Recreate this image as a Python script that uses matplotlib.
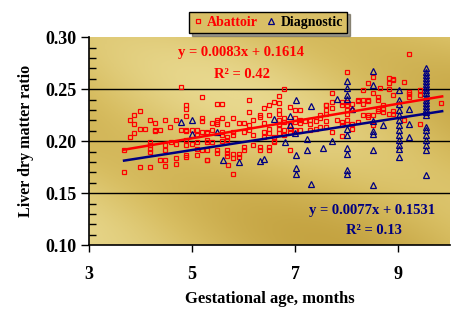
import numpy as np
import matplotlib
matplotlib.use("Agg")
import matplotlib.pyplot as plt
from matplotlib.colors import LinearSegmentedColormap

plt.rcParams['font.family'] = ['Liberation Serif', 'DejaVu Serif']
plt.rcParams['font.weight'] = 'bold'

# abattoir samples (gestational age in months, liver dry matter ratio)
ab_x = [3.68, 3.68, 3.79, 3.79, 3.88, 3.88, 3.88, 3.98, 3.98, 3.98, 4.08, 4.19, 4.19, 4.19, 4.19, 4.19, 4.19,
        4.28, 4.28, 4.28, 4.38, 4.38, 4.48, 4.48, 4.48, 4.48, 4.48, 4.58, 4.59, 4.69, 4.69, 4.69, 4.69, 4.78, 4.78,
        4.88, 4.88, 4.88, 4.88, 4.88, 4.88, 4.88, 4.88, 4.88, 4.99, 4.99, 5.09, 5.09, 5.09, 5.09, 5.09, 5.19, 5.19,
        5.19, 5.19, 5.19, 5.28, 5.28, 5.28,
        5.28, 5.28, 5.28, 5.28, 5.39, 5.39, 5.39, 5.49, 5.49, 5.49, 5.49, 5.49, 5.49, 5.58, 5.58, 5.58, 5.58, 5.58,
        5.68, 5.68, 5.68, 5.68, 5.68, 5.68, 5.69, 5.79, 5.79, 5.79, 5.79, 5.79, 5.79, 5.90, 5.90, 5.90, 6.00, 6.00,
        6.00, 6.00, 6.10, 6.10, 6.10, 6.10, 6.19, 6.19, 6.19, 6.31, 6.31, 6.31, 6.31, 6.40, 6.40, 6.40, 6.40, 6.50,
        6.50, 6.50, 6.50, 6.50, 6.50, 6.59, 6.59, 6.59, 6.59, 6.69, 6.69, 6.69, 6.69, 6.69, 6.69, 6.69, 6.69, 6.69,
        6.79, 6.79, 6.79, 6.79, 6.79, 6.90, 6.90, 6.90, 6.90, 6.90, 6.99, 6.99, 6.99, 6.99, 7.09, 7.09, 7.09, 7.09,
        7.19, 7.29, 7.29, 7.29, 7.40, 7.40, 7.49, 7.49, 7.49, 7.60, 7.60, 7.60,
        7.60, 7.60, 7.60, 7.71, 7.71, 7.71, 7.71, 7.81, 7.91, 7.91, 7.91, 7.91, 7.91, 8.00, 8.00, 8.00, 8.00, 8.00,
        8.00, 8.00, 8.10, 8.10, 8.10, 8.10, 8.21, 8.21, 8.21, 8.31, 8.31, 8.31, 8.31, 8.42, 8.42, 8.42, 8.42, 8.42,
        8.50, 8.50, 8.50, 8.50, 8.61, 8.61, 8.61, 8.61, 8.65, 8.71, 8.71, 8.71, 8.81, 8.81, 8.81, 8.81, 8.90, 8.90,
        8.90, 8.90, 8.90, 9.11, 9.11, 9.21, 9.21, 9.21, 9.21, 9.42, 9.42, 9.42, 9.83]
ab_y = [0.1916, 0.1705, 0.2208, 0.2041, 0.225, 0.217, 0.208, 0.2288, 0.2115, 0.1753, 0.2115, 0.2202, 0.1993, 0.196,
        0.193, 0.1896, 0.1753, 0.2176, 0.211, 0.2096, 0.2105, 0.1823, 0.220, 0.196, 0.1916, 0.1823, 0.1762, 0.2138,
        0.1993, 0.2208, 0.1977, 0.1843, 0.1785, 0.2525, 0.2105, 0.2346, 0.2314, 0.224, 0.211, 0.2095, 0.2008, 0.196,
        0.187, 0.185, 0.2112, 0.1977, 0.2105, 0.2057, 0.1993, 0.193, 0.187, 0.2426, 0.2224, 0.2195, 0.2089, 0.1916,
        0.208, 0.1993, 0.182,
        0.2089, 0.201, 0.1913, 0.1817, 0.218, 0.2105, 0.1993, 0.2355, 0.2208, 0.2185, 0.217, 0.1913, 0.1885, 0.2355,
        0.2224, 0.2089, 0.2057, 0.200, 0.217, 0.2041, 0.201, 0.1913, 0.1885, 0.186, 0.1769, 0.2224, 0.209, 0.206,
        0.188, 0.184, 0.1689, 0.2175, 0.188, 0.185, 0.2175, 0.209, 0.1945, 0.1913, 0.2401, 0.2281, 0.2153, 0.2112,
        0.2202, 0.2057, 0.196, 0.2256, 0.2233, 0.1945, 0.1913, 0.232, 0.2175, 0.209, 0.2041, 0.2345, 0.2256, 0.2122,
        0.2075, 0.1945, 0.1918, 0.2378, 0.2041, 0.2003, 0.199, 0.2433, 0.2368, 0.2304, 0.2266, 0.2202, 0.217, 0.2153,
        0.2122, 0.208, 0.2507, 0.2224, 0.2185, 0.2112, 0.2057, 0.233, 0.2153, 0.2122, 0.209, 0.1913, 0.2304, 0.2224,
        0.2185, 0.2105, 0.2304, 0.2208, 0.2175, 0.2112, 0.2195, 0.2208, 0.2163, 0.2105, 0.2195, 0.2122, 0.2256,
        0.2224, 0.2137, 0.2346, 0.226, 0.2137,
        0.2353, 0.2298, 0.2195, 0.2468, 0.2378, 0.232, 0.2089, 0.220, 0.238, 0.235, 0.2185, 0.2153, 0.205, 0.2666,
        0.238, 0.2346, 0.2298, 0.2266, 0.220, 0.217, 0.236, 0.230, 0.217, 0.2122, 0.2394, 0.2384, 0.2185, 0.249,
        0.2394, 0.2355, 0.225, 0.2561, 0.2394, 0.2384, 0.225, 0.2234, 0.262, 0.2468, 0.225, 0.2153, 0.2426, 0.2394,
        0.2314, 0.2292, 0.2513, 0.2346, 0.2314, 0.2281, 0.2612, 0.2564, 0.2506, 0.226, 0.2603, 0.2594, 0.2442,
        0.2292, 0.226, 0.257, 0.2202, 0.2843, 0.2474, 0.2452, 0.2426, 0.2497, 0.2442, 0.217, 0.2372]

# diagnostic samples
dg_x = [4.78, 4.99, 4.99, 5.49, 5.60, 5.90, 6.31, 6.40, 6.59, 6.80, 6.90, 6.90, 6.99, 7.01, 7.01, 7.01, 7.01,
        7.23, 7.23, 7.31, 7.31, 7.53, 7.71, 7.81, 8.00, 8.00, 8.00, 8.00, 8.00, 8.00, 8.00, 8.00, 8.00, 8.00, 8.10,
        8.50, 8.50, 8.50, 8.50, 8.50, 8.50, 8.50, 8.71, 9.01, 9.01, 9.01, 9.01, 9.01, 9.01, 9.01, 9.01, 9.01, 9.01,
        9.01, 9.01, 9.01, 9.21, 9.21, 9.21,
        9.53, 9.53, 9.53, 9.53, 9.53, 9.53, 9.53, 9.53, 9.53, 9.53, 9.53, 9.53, 9.53, 9.53, 9.53, 9.53, 9.53, 9.53,
        9.53, 9.53, 9.53, 9.53, 9.53]
dg_y = [0.219, 0.2208, 0.2067, 0.2089, 0.1823, 0.180, 0.181, 0.1833, 0.2218, 0.1993, 0.224, 0.2153, 0.208, 0.2401,
        0.1865, 0.1743, 0.1682, 0.2026, 0.192, 0.2336, 0.1592, 0.194, 0.2003, 0.241, 0.258, 0.2513, 0.2449, 0.241,
        0.2122, 0.2057, 0.194, 0.1875, 0.172, 0.1689, 0.2314, 0.2676, 0.2538, 0.2195, 0.21, 0.2067, 0.1913, 0.1576,
        0.216, 0.249, 0.2394, 0.2355, 0.2298, 0.225, 0.220, 0.2153, 0.2105, 0.2057, 0.201, 0.1961, 0.193, 0.1849,
        0.2314, 0.217, 0.2041,
        0.270, 0.267, 0.264, 0.261, 0.258, 0.255, 0.252, 0.249, 0.246, 0.243, 0.240, 0.237, 0.234, 0.231, 0.228,
        0.225, 0.2138, 0.2105, 0.2057, 0.201, 0.1961, 0.1913, 0.1672]

# fitted trend lines from the source
ab_fit = (0.0083, 0.1614, 0.42)
dg_fit = (0.0077, 0.1531, 0.13)
fit_range = [3.68, 9.85]

red = '#FF0000'
navy = '#000080'

fig = plt.figure(figsize=(4.6, 3.15), dpi=100)
ax = fig.add_axes([0.1935, 0.2213, 0.7845, 0.6603])

# gold textured background
gx, gy = np.meshgrid(np.linspace(0, 1, 200), np.linspace(0, 1, 200))
tex = 0.5 + 0.3 * np.cos(6.0 * (gx * 0.8 + gy)) + 0.2 * np.cos(3.0 * (gx - gy) + 1.0)
gold = LinearSegmentedColormap.from_list('gold', ['#C4A341', '#D8BE62', '#E8D88E'])
ax.imshow(tex, extent=[3, 10, 0.10, 0.30], aspect='auto', cmap=gold, origin='lower', zorder=0)

for yv in [0.15, 0.20, 0.25]:
    ax.axhline(yv, color='black', lw=1.0, zorder=1)

ax.plot(ab_x, ab_y, 's', ms=3.0, mfc='none', mec=red, mew=0.9, zorder=3, label='Abattoir')
ax.plot(dg_x, dg_y, '^', ms=4.0, mfc='none', mec=navy, mew=0.9, zorder=3, label='Diagnostic')

fx = np.array(fit_range)
ax.plot(fx, ab_fit[0] * fx + ab_fit[1], color=red, lw=1.8, zorder=4)
ax.plot(fx, dg_fit[0] * fx + dg_fit[1], color=navy, lw=1.8, zorder=4)

ax.text(5.95, 0.2849, 'y = %.4fx + %.4f' % (ab_fit[0], ab_fit[1]), color=red, fontsize=10.5,
        fontweight='bold', ha='center', va='center')
ax.text(5.97, 0.2647, 'R\u00b2 = %.2f' % ab_fit[2], color=red, fontsize=10.5,
        fontweight='bold', ha='center', va='center')
ax.text(8.5, 0.1335, 'y = %.4fx + %.4f' % (dg_fit[0], dg_fit[1]), color=navy, fontsize=10.5,
        fontweight='bold', ha='center', va='center')
ax.text(8.52, 0.1143, 'R\u00b2 = %.2f' % dg_fit[2], color=navy, fontsize=10.5,
        fontweight='bold', ha='center', va='center')

ax.set_xlim(3, 10)
ax.set_ylim(0.10, 0.30)
ax.set_xticks([3, 5, 7, 9])
ax.set_yticks([0.10, 0.15, 0.20, 0.25, 0.30])
ax.set_yticklabels(['0.10', '0.15', '0.20', '0.25', '0.30'])
ax.set_yticks(np.arange(0.10, 0.30, 0.01), minor=True)
ax.tick_params(axis='y', which='major', direction='out', length=6, width=1, labelsize=13, pad=3)
ax.tick_params(axis='y', which='minor', direction='in', length=5, width=1)
ax.tick_params(axis='x', which='major', direction='out', length=5, width=1, labelsize=13, pad=10)
for s in ['top', 'right']:
    ax.spines[s].set_visible(False)
for s in ['left', 'bottom']:
    ax.spines[s].set_linewidth(1.2)

ax.set_xlabel('Gestational age, months', fontsize=12, fontweight='bold', labelpad=6)
ax.set_ylabel('Liver dry matter ratio', fontsize=11.5, fontweight='bold', labelpad=8)

leg = fig.legend(loc='upper center', bbox_to_anchor=(0.583, 0.985), ncol=2, fontsize=10,
                 frameon=True, fancybox=False, shadow=True, handlelength=0.6, handletextpad=0.4,
                 columnspacing=0.6, borderpad=0.3, markerscale=1.0)
leg.get_frame().set_facecolor('#D9BF66')
leg.get_frame().set_edgecolor('black')
leg.get_frame().set_linewidth(1.0)
leg.get_texts()[0].set_color(red)
leg.get_texts()[1].set_color('black')
for t in leg.get_texts():
    t.set_fontweight('bold')

fig.savefig('out.png', dpi=100)
